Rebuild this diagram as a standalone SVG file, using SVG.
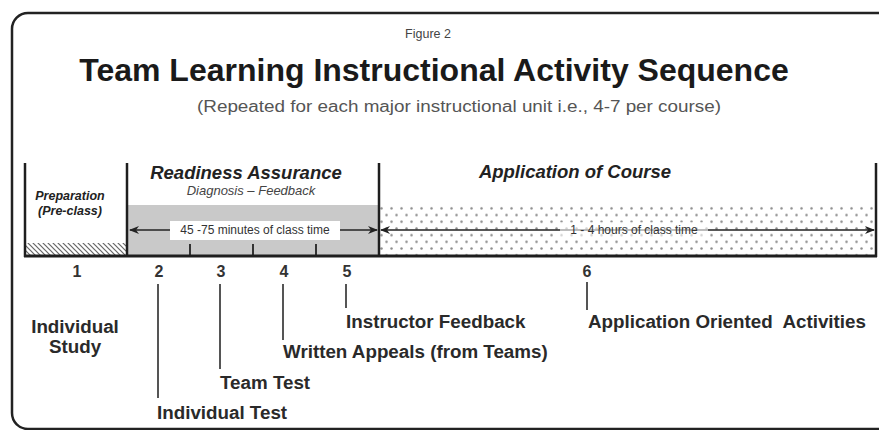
<svg xmlns="http://www.w3.org/2000/svg" width="879" height="430" viewBox="0 0 879 430">
<defs>
<style>
.frame{fill:#fff;stroke:#222;stroke-width:2.5}
.wall{stroke:#1e1e1e;stroke-width:2.5;fill:none}
.tick{stroke:#222;stroke-width:1.8}
.lead{stroke:#555;stroke-width:2}
.arr{stroke:#222;stroke-width:1.6;fill:none;marker-start:url(#ah);marker-end:url(#ah)}
.head{font-family:"Liberation Sans",Arial,sans-serif;font-weight:bold;font-style:italic;fill:#222}
.sub{font-family:"Liberation Sans",Arial,sans-serif;font-style:italic;fill:#444}
.num{font-family:"Liberation Sans",Arial,sans-serif;font-weight:bold;font-size:16px;fill:#333;text-anchor:middle}
.lab{font-family:"Liberation Sans",Arial,sans-serif;font-weight:bold;font-size:18.8px;fill:#2a2a2a}
.small{font-family:"Liberation Sans",Arial,sans-serif;font-size:12px;fill:#333;text-anchor:middle}
</style>
<marker id="ah" viewBox="0 0 10 8" refX="9" refY="4" markerWidth="10" markerHeight="8" markerUnits="userSpaceOnUse" orient="auto-start-reverse">
<path d="M0,0 L10,4 L0,8 L3,4 z" fill="#222"/>
</marker>
<pattern id="hatch" width="5" height="5" patternUnits="userSpaceOnUse">
<rect width="5" height="5" fill="#fff"/>
<path d="M-1,-1 L6,6 M-1,4 L1,6 M4,-1 L6,1" stroke="#666" stroke-width="1.2"/>
</pattern>
<pattern id="dots" width="10" height="13.4" patternUnits="userSpaceOnUse" x="379" y="205">
<rect width="10" height="13.4" fill="#fff"/>
<circle cx="2.5" cy="3.3" r="1.25" fill="#8c8c8c"/>
<circle cx="7.5" cy="10" r="1.25" fill="#8c8c8c"/>
</pattern>
</defs>

<rect class="frame" x="12" y="13" width="890" height="416" rx="16"/>

<g id="title">
<text x="428" y="38" font-family="Liberation Sans,Arial,sans-serif" font-size="12.5" fill="#444" text-anchor="middle">Figure 2</text>
<text x="434" y="81" font-family="Liberation Sans,Arial,sans-serif" font-size="32" font-weight="bold" fill="#1a1a1a" text-anchor="middle">Team Learning Instructional Activity Sequence</text>
<text x="459" y="112" font-family="Liberation Sans,Arial,sans-serif" font-size="16" fill="#555" text-anchor="middle" textLength="524" lengthAdjust="spacingAndGlyphs">(Repeated for each major instructional unit i.e., 4-7 per course)</text>
</g>

<g id="preparation">
<rect x="25" y="243" width="102" height="13" fill="url(#hatch)"/>
<text class="head" x="70" y="200" font-size="12.5" text-anchor="middle" fill="#444">Preparation</text>
<text class="head" x="70" y="215" font-size="12.5" text-anchor="middle" fill="#444">(Pre-class)</text>
</g>

<g id="readiness">
<rect x="127" y="205" width="252" height="51" fill="#c9c9c9"/>
<line class="tick" x1="190" y1="244" x2="190" y2="256"/>
<line class="tick" x1="253" y1="244" x2="253" y2="256"/>
<line class="tick" x1="316" y1="244" x2="316" y2="256"/>
<text class="head" x="246" y="179" font-size="18.5" text-anchor="middle">Readiness Assurance</text>
<text class="sub" x="251" y="195" font-size="13" text-anchor="middle">Diagnosis – Feedback</text>
</g>

<g id="application">
<rect x="379" y="205" width="497" height="51" fill="url(#dots)"/>
<text class="head" x="575" y="178" font-size="18.5" text-anchor="middle">Application of Course</text>
</g>

<g id="connectors">
<line class="arr" x1="130" y1="230" x2="377" y2="230"/>
<line class="arr" x1="381" y1="230" x2="874" y2="230"/>
<line class="wall" x1="25" y1="163" x2="25" y2="257"/>
<line class="wall" x1="127" y1="163" x2="127" y2="257"/>
<line class="wall" x1="379" y1="163" x2="379" y2="257"/>
<line class="wall" x1="876" y1="163" x2="876" y2="257"/>
<line x1="24" y1="256" x2="877" y2="256" stroke="#1e1e1e" stroke-width="3"/>
<line class="lead" x1="158" y1="284" x2="158" y2="398"/>
<line class="lead" x1="220" y1="284" x2="220" y2="369"/>
<line class="lead" x1="283" y1="284" x2="283" y2="340"/>
<line class="lead" x1="346" y1="284" x2="346" y2="308"/>
<line class="lead" x1="587" y1="282" x2="587" y2="310"/>
</g>

<g id="arrow-labels">
<rect x="170" y="221" width="170" height="19" fill="#fff"/>
<text class="small" x="255" y="234">45 -75 minutes of class time</text>
<rect x="560" y="222" width="148" height="16" fill="#fff" opacity="0.6"/>
<text class="small" x="634" y="234" fill="#444">1 - 4 hours of class time</text>
</g>

<g id="numbers">
<text class="num" x="77" y="277">1</text>
<text class="num" x="159" y="277">2</text>
<text class="num" x="221" y="277">3</text>
<text class="num" x="284" y="277">4</text>
<text class="num" x="347" y="277">5</text>
<text class="num" x="587" y="277">6</text>
</g>

<g id="step1"><text class="lab" x="75" y="333" text-anchor="middle">Individual</text><text class="lab" x="75" y="353" text-anchor="middle">Study</text></g>
<g id="step2"><text class="lab" x="157" y="419">Individual Test</text></g>
<g id="step3"><text class="lab" x="220" y="389">Team Test</text></g>
<g id="step4"><text class="lab" x="283" y="358">Written Appeals (from Teams)</text></g>
<g id="step5"><text class="lab" x="346" y="328">Instructor Feedback</text></g>
<g id="step6"><text class="lab" x="588" y="328" xml:space="preserve">Application Oriented  Activities</text></g>
</svg>
